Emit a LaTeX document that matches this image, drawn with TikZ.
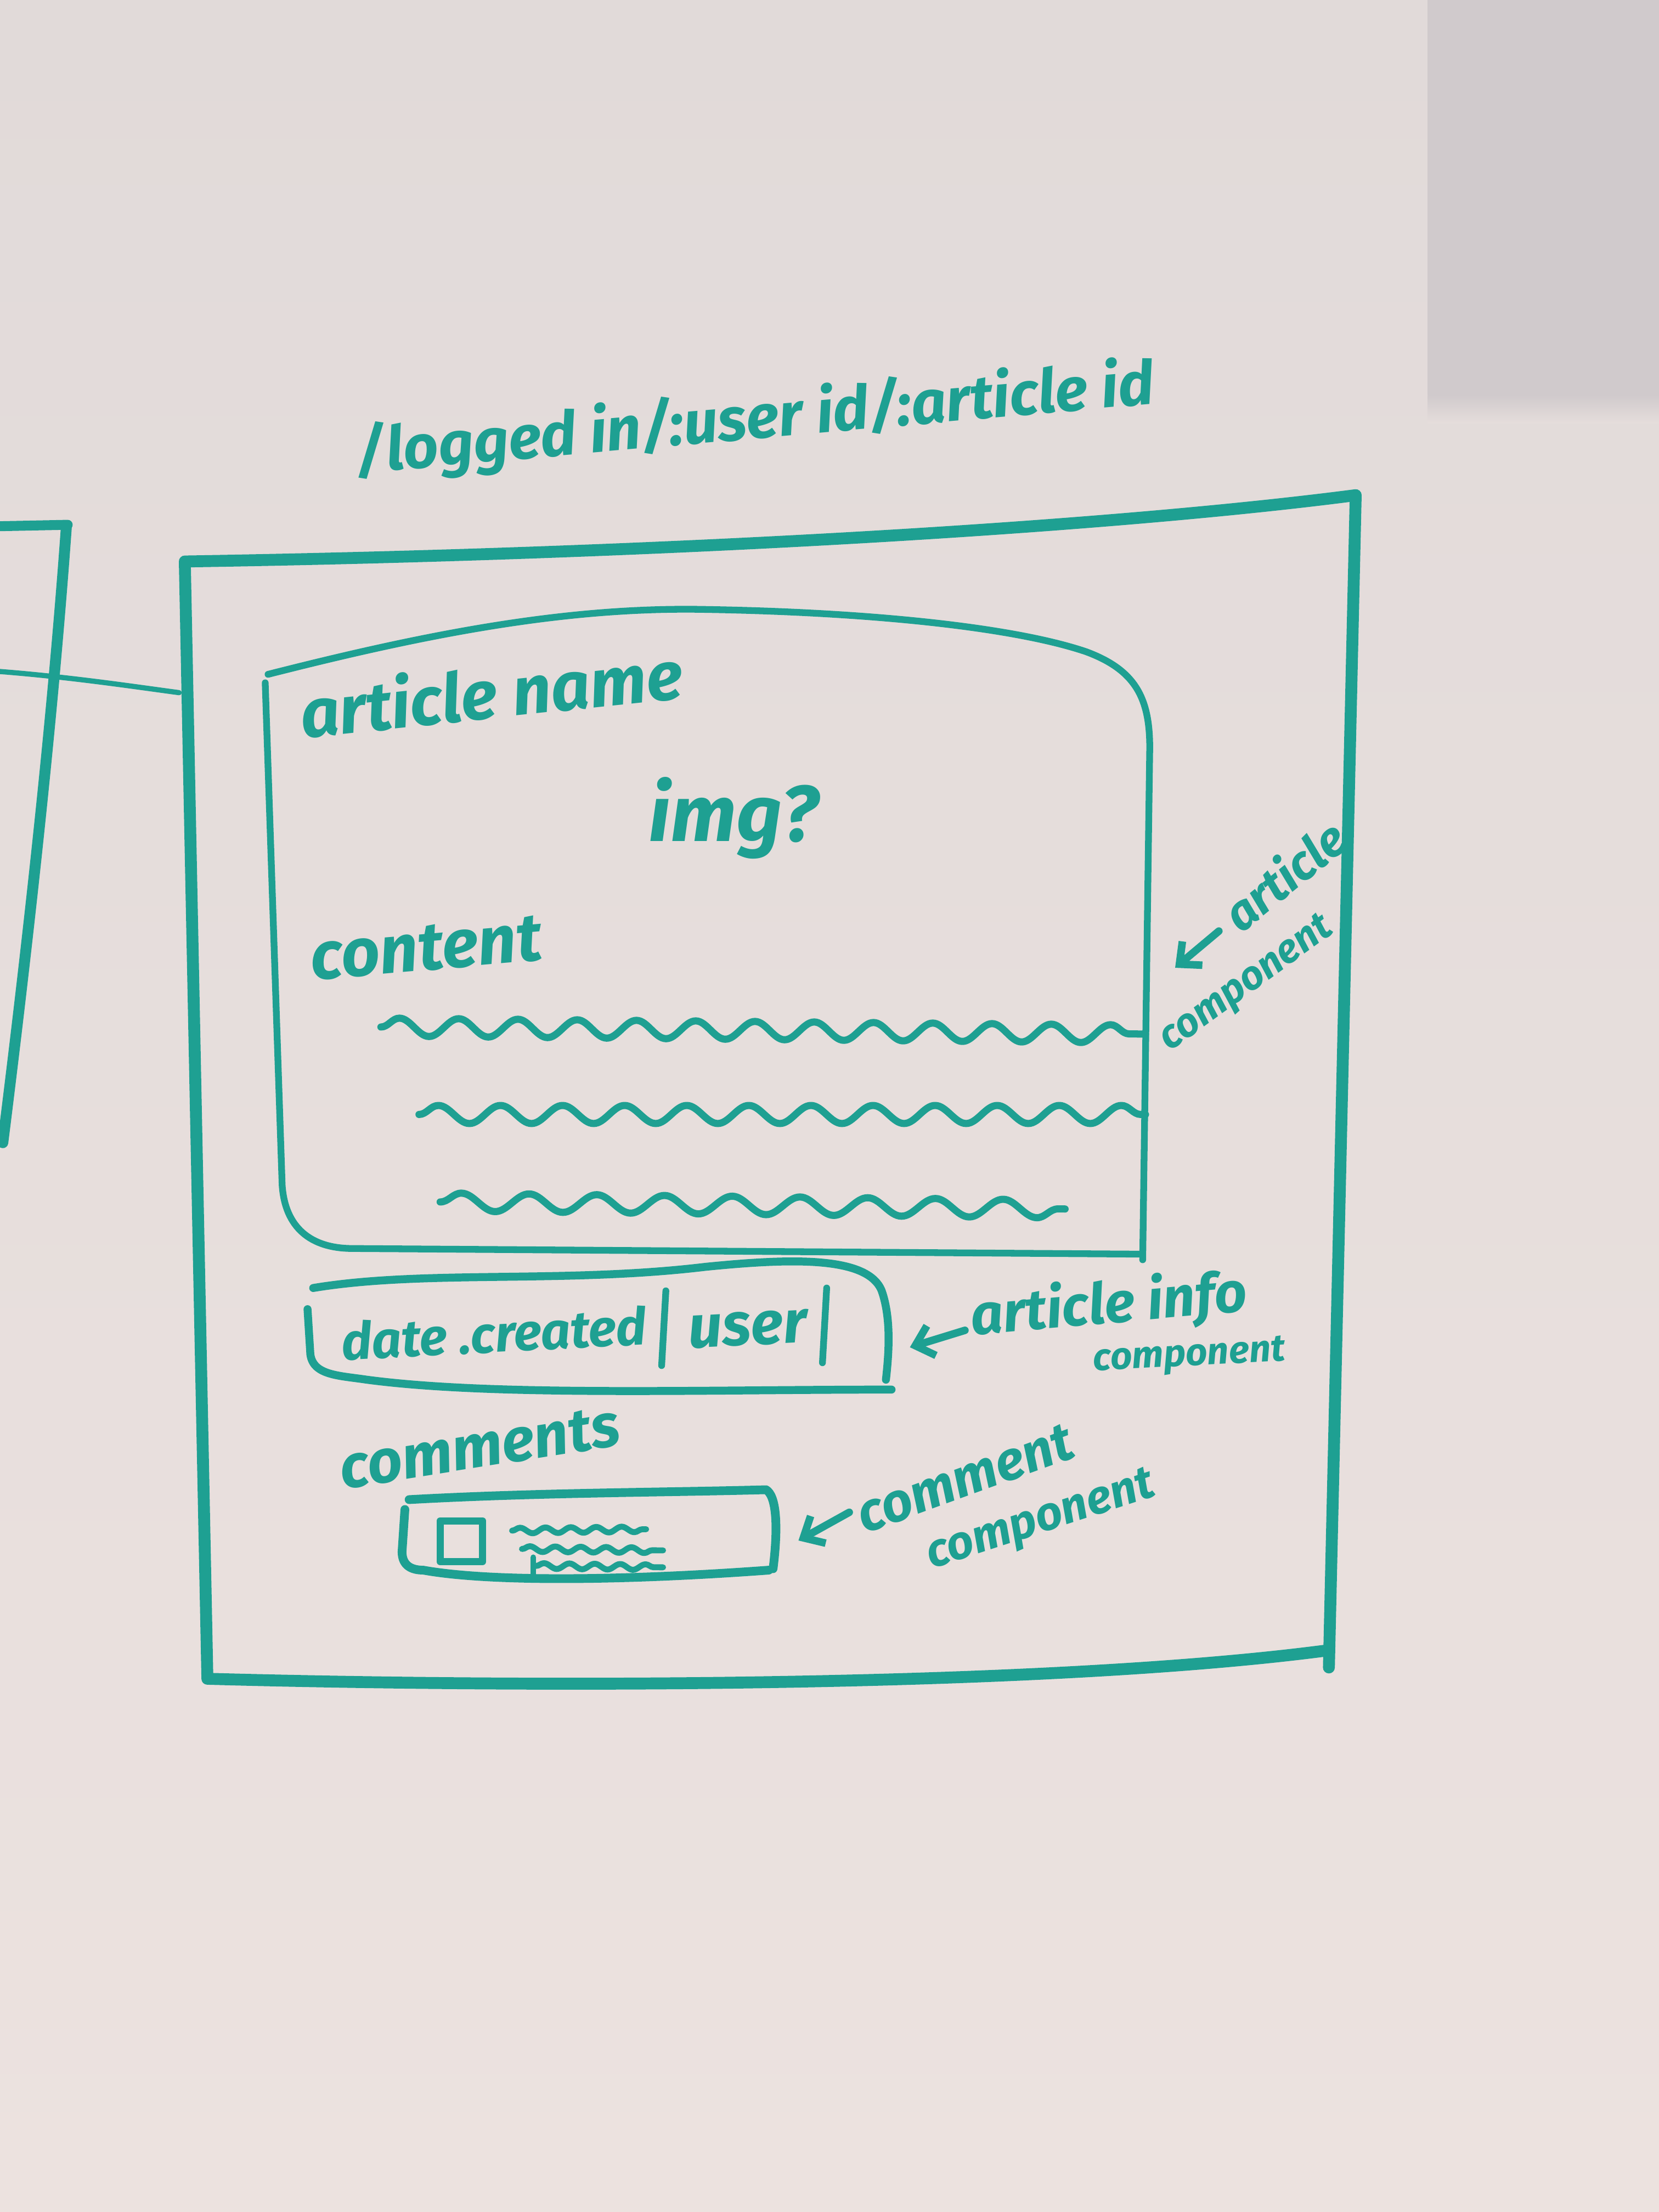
\documentclass[tikz,border=0pt]{standalone}
\usepackage{fontspec}
\setmainfont{Fira Sans}
\usetikzlibrary{decorations.pathmorphing,arrows.meta}
\definecolor{board}{RGB}{236,226,223}
\definecolor{boardtop}{RGB}{225,218,217}
\definecolor{shadowgrey}{RGB}{208,202,204}
\definecolor{marker}{RGB}{30,160,146}

\begin{document}
\begin{tikzpicture}[x=0.025cm,y=-0.025cm,
  ink/.style={draw=marker,line cap=round,line join=round},
  frameline/.style={ink,line width=6pt},
  cardline/.style={ink,line width=3.4pt},
  barline/.style={ink,line width=4pt},
  boxline/.style={ink,line width=4.4pt},
  wave/.style={ink,line width=3.6pt,decorate,
    decoration={snake,segment length=#1,amplitude=0.16cm}},
  smallwave/.style={ink,line width=3pt,decorate,
    decoration={snake,segment length=0.45cm,amplitude=0.05cm}},
  pointer/.style={ink,line width=3.8pt,
    -{Straight Barb[length=0.3cm,width=0.55cm,line width=3.8pt]}},
  hand/.style={text=marker,font=\bfseries\itshape,inner sep=0pt}]

% whiteboard
\shade[top color=boardtop,bottom color=board] (0,0) rectangle (1176,1568);
\fill[shadowgrey] (1012,0) rectangle (1176,280);
\shade[top color=shadowgrey,bottom color=boardtop!60!board] (1012,280) rectangle (1176,300);
\useasboundingbox (0,0) rectangle (1176,1568);

% neighbouring page sketch, cut at the left edge
\draw[ink,line width=5pt] (0,373) -- (48,372);
\draw[ink,line width=5.5pt] (47,374) .. controls (38,500) and (22,650) .. (2,810);
\draw[ink,line width=2.6pt] (0,476) .. controls (50,480) and (90,486) .. (127,491);

% route heading
\node[hand,rotate=5] (route) at (535,298)
  {\resizebox{14.2cm}{!}{/logged in/:user id/:article id}};

% page frame
\draw[frameline] (942,1182) -- (961,351)
  .. controls (800,372) and (500,392) .. (131,398)
  -- (147,1190) .. controls (400,1197) and (750,1195) .. (940,1170);

% article card
\draw[cardline] (190,478) .. controls (300,450) and (400,430) .. (500,432)
  .. controls (620,434) and (720,445) .. (770,462)
  .. controls (805,475) and (815,495) .. (815,530) -- (810,893);
\draw[cardline] (188,484) -- (200,840)
  .. controls (202,870) and (220,885) .. (250,885) -- (808,889);

\node[hand,rotate=6] (artname) at (348,490) {\resizebox{6.8cm}{!}{article name}};
\node[hand] (img) at (520,580) {\resizebox{3.0cm}{!}{img?}};
\node[hand,rotate=5] (content) at (302,672) {\resizebox{4.1cm}{!}{content}};

\draw[wave=1.05cm] (270,728) -- (812,733);
\draw[wave=1.1cm] (297,790) -- (812,790);
\draw[wave=1.2cm] (312,852) -- (755,857);

% article component label
\coordinate (artTip) at (833,686);
\coordinate (artTail) at (864,660);
\draw[pointer] (artTail) -- (artTip);
\node[hand,rotate=39] (artlbl1) at (910,620) {\resizebox{2.5cm}{!}{article}};
\node[hand,rotate=36] (artlbl2) at (884,698) {\resizebox{3.6cm}{!}{component}};

% article info bar
\draw[barline] (222,913) .. controls (300,900) and (400,910) .. (500,898)
  .. controls (560,892) and (615,890) .. (625,915)
  .. controls (632,935) and (630,960) .. (628,978);
\draw[barline] (218,928) -- (220,960)
  .. controls (222,975) and (240,975) .. (260,978)
  .. controls (350,990) and (500,985) .. (632,985);
\node[hand,rotate=3] (datecreated) at (350,945) {\resizebox{5.4cm}{!}{date .created}};
\draw[ink,line width=3.4pt] (472,915) -- (469,968);
\node[hand,rotate=3] (userlbl) at (530,942) {\resizebox{2.1cm}{!}{user}};
\draw[ink,line width=3.4pt] (586,913) -- (583,966);

\coordinate (infoTip) at (645,955);
\coordinate (infoTail) at (684,943);
\draw[pointer] (infoTail) -- (infoTip);
\node[hand,rotate=5] (infolbl1) at (786,926) {\resizebox{4.9cm}{!}{article info}};
\node[hand,rotate=3] (infolbl2) at (843,962) {\resizebox{3.4cm}{!}{component}};

% comments list
\node[hand,rotate=9] (comments) at (340,1026) {\resizebox{5.0cm}{!}{comments}};
\draw[boxline] (290,1063) .. controls (380,1058) and (470,1058) .. (543,1056)
  .. controls (550,1060) and (552,1080) .. (548,1112);
\draw[boxline] (287,1070) -- (285,1100)
  .. controls (285,1110) and (292,1113) .. (300,1113)
  .. controls (350,1122) and (450,1120) .. (545,1113);
\draw[ink,line width=3.6pt] (312,1078) rectangle (342,1107);
\draw[smallwave] (363,1085) -- (458,1084);
\draw[smallwave] (370,1098) -- (470,1099);
\draw[ink,line width=3pt] (378,1104) -- (378,1118);
\draw[smallwave] (380,1110) -- (470,1111);

% comment component label
\coordinate (comTip) at (566,1092);
\coordinate (comTail) at (602,1072);
\draw[pointer] (comTail) -- (comTip);
\node[hand,rotate=20] (comlbl1) at (684,1048) {\resizebox{4.0cm}{!}{comment}};
\node[hand,rotate=18] (comlbl2) at (738,1079) {\resizebox{4.2cm}{!}{component}};
\end{tikzpicture}
\end{document}
